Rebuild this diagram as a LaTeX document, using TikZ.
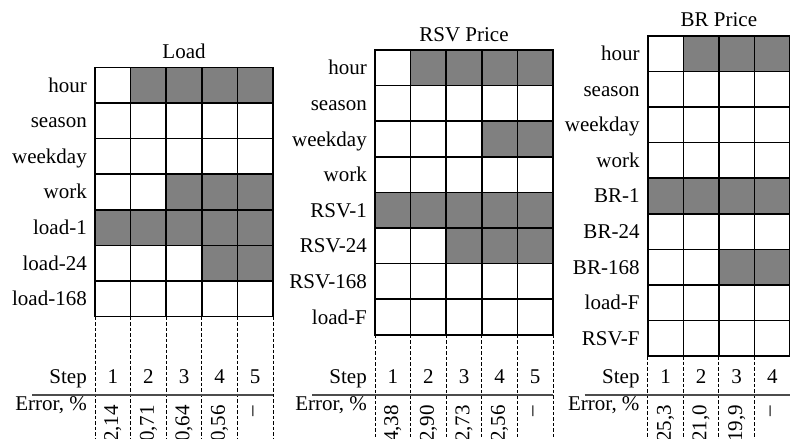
\documentclass[tikz,border=0pt]{standalone}
\usepackage{fontspec}
\setmainfont{Liberation Serif}
\tikzset{
  cellfill/.style={fill=black!50},
  gridline/.style={line width=1.6pt, line cap=rect},
  dashline/.style={line width=0.9pt, dash pattern=on 3.5pt off 2pt},
  sepline/.style={line width=1.6pt, draw=black!70},
  lab/.style={inner sep=0pt, font=\fontsize{21}{24}\selectfont},
}
\def\cw{35.6}
% #1 name, #2 left, #3 top, #4 columns, #5 rows, #6 title,
% #7 row labels, #8 shaded cells row/col, #9 error values
\newcommand\drawpanel[9]{%
  \begin{scope}[shift={(#2,#3)}]
    \foreach \r/\c in {#8}
      \fill[cellfill] ({(\c-1)*\cw},{(\r-1)*\cw}) rectangle ++(\cw,\cw);
    \foreach \c in {0,...,#4} {
      \draw[gridline] ({\c*\cw},0) -- ({\c*\cw},{#5*\cw});
      \draw[dashline] ({\c*\cw},{#5*\cw}) -- ({\c*\cw},{445-#3});
    }
    \foreach \r in {0,...,#5}
      \draw[gridline] (0,{\r*\cw}) -- ({#4*\cw},{\r*\cw});
    \node[lab, anchor=base] (#1-title) at ({#4*\cw/2},-9) {#6};
    \foreach \rowname [count=\r] in {#7}
      \node[lab, anchor=base east] (#1-row\r) at (-8,{(\r-0.5)*\cw+7}) {\rowname};
    \node[lab, anchor=base east] (#1-step) at (-8,{383-#3}) {Step};
    \node[lab, anchor=base east] (#1-err) at (-8,{410-#3}) {Error, \%};
    \foreach \c in {1,...,#4}
      \node[lab, anchor=base] (#1-n\c) at ({(\c-0.5)*\cw},{383-#3}) {\c};
    \foreach \v [count=\c] in {#9}
      \node[lab, rotate=90, anchor=east] (#1-e\c) at ({(\c-0.5)*\cw},{405-#3}) {\v};
    \node[lab, rotate=90] (#1-dash) at ({(#4-0.5)*\cw},{411-#3}) {--};
    \draw[sepline] (-63,{395-#3}) -- ({#4*\cw},{395-#3});
  \end{scope}}
\begin{document}
\begin{tikzpicture}[x=1pt,y=-1pt]
  \clip (0,0) rectangle (790,439);
  \drawpanel{load}{95}{67.3}{5}{7}{Load}
    {hour,season,weekday,work,load-1,load-24,load-168}
    {1/2,1/3,1/4,1/5,4/3,4/4,4/5,5/1,5/2,5/3,5/4,5/5,6/4,6/5}
    {{2,14},{0,71},{0,64},{0,56}}
  \drawpanel{rsv}{375}{50}{5}{8}{RSV Price}
    {hour,season,weekday,work,RSV-1,RSV-24,RSV-168,load-F}
    {1/2,1/3,1/4,1/5,3/4,3/5,5/1,5/2,5/3,5/4,5/5,6/3,6/4,6/5}
    {{4,38},{2,90},{2,73},{2,56}}
  \drawpanel{br}{647.7}{35.7}{4}{9}{BR Price}
    {hour,season,weekday,work,BR-1,BR-24,BR-168,load-F,RSV-F}
    {1/2,1/3,1/4,5/1,5/2,5/3,5/4,7/3,7/4}
    {{25,3},{21,0},{19,9}}
\end{tikzpicture}
\end{document}
